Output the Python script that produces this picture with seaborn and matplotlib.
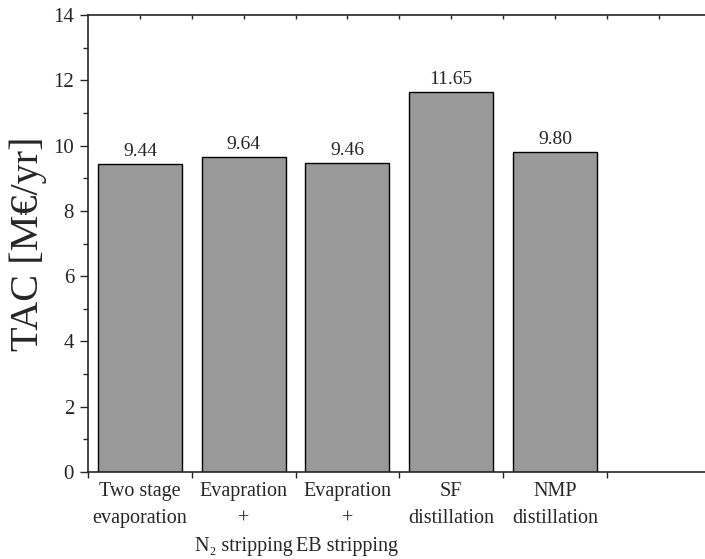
import numpy as np
import pandas as pd
import seaborn as sns
import matplotlib.pyplot as plt
from matplotlib.ticker import MultipleLocator

# Values
processes = ["Two stage\nevaporation",
             "Evapration\n+\nN\u2082 stripping",
             "Evapration\n+\nEB stripping",
             "SF\ndistillation",
             "NMP\ndistillation"]
tac = [9.44, 9.64, 9.46, 11.65, 9.80]
tac_labels = ["9.44", "9.64", "9.46", "11.65", "9.80"]

df = pd.DataFrame({"process": processes, "tac": tac})

sns.set_style("ticks")
plt.rcParams['font.family'] = ['Liberation Serif', 'DejaVu Serif']

fig = plt.figure(figsize=(7.05, 5.59), dpi=100)
ax = fig.add_axes([88 / 705, 1 - 472 / 559, 1 - 88 / 705 + 0.002, (472 - 15) / 559])

sns.barplot(x="process", y="tac", data=df, color="#999999", edgecolor="black",
            linewidth=1.0, width=0.81, saturation=1, ax=ax)

# Value labels above the bars
ax.bar_label(ax.containers[0], labels=tac_labels, padding=3, fontsize=14)

ax.set_xlim(-0.5, 5.46)
ax.set_ylim(0, 14)
ax.yaxis.set_major_locator(MultipleLocator(2))
ax.yaxis.set_minor_locator(MultipleLocator(1))
ax.tick_params(axis='y', which='major', direction='out', length=6, width=1,
               labelsize=15, pad=4, right=False)
ax.tick_params(axis='y', which='minor', direction='out', length=3.5, width=1, right=False)

# category boundaries get the ticks, centers get the labels
ax.set_xticks(np.arange(-0.5, 5.0, 1.0), minor=True)
ax.tick_params(axis='x', which='major', length=0, labelsize=14.5, pad=7)
ax.tick_params(axis='x', which='minor', direction='out', length=4, width=1)
for lab in ax.get_xticklabels():
    lab.set_linespacing(1.6)

# small inward ticks along the top spine
top = ax.secondary_xaxis('top')
top.set_xticks(np.arange(0, 5.5, 0.5))
top.tick_params(direction='in', length=3, width=1, labeltop=False)
top.spines['top'].set_visible(False)

ax.spines['right'].set_visible(False)
for s in ['left', 'bottom', 'top']:
    ax.spines[s].set_linewidth(1.2)

ax.set_xlabel("")
ax.set_ylabel("TAC [M€/yr]", fontsize=29)
ax.yaxis.set_label_coords(-0.066, 0.5)

plt.savefig("out.png", dpi=100)
plt.close()
